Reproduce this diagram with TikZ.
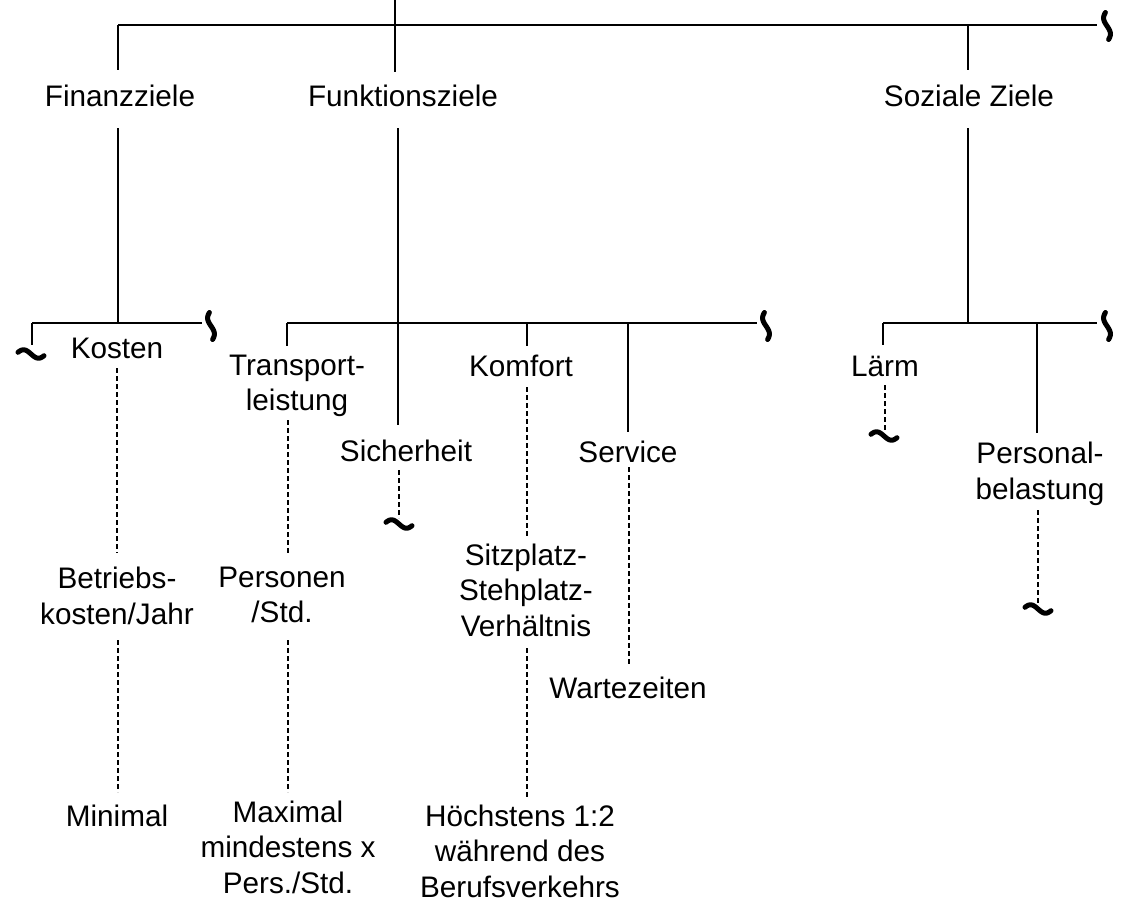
\documentclass[tikz,border=0pt]{standalone}
\usepackage{fontspec}
\setmainfont{Liberation Sans}
\begin{document}
\begin{tikzpicture}[x=1pt,y=-1pt,
  ln/.style={line width=1.2pt},
  dl/.style={line width=1.2pt, dash pattern=on 5pt off 3pt},
  lbl/.style={font=\fontsize{29.7}{35.5}\selectfont, align=center, inner sep=0pt},
  tl/.style={line width=5pt, line cap=round, line join=round},
  htil/.pic={\draw[tl] plot[domain=-13:13,samples=31,smooth] (\x,{4.2*sin(180*\x/15)});},
  vtil/.pic={\draw[tl] plot[domain=-13.5:13.5,samples=31,smooth] ({3.4*sin(180*\x/16)},\x);}]
\useasboundingbox (0,0) rectangle (1124,907);

% text nodes
\node[lbl] (fin) at (120,96) {Finanzziele};
\node[lbl] (fun) at (403,96) {Funktionsziele};
\node[lbl] (soz) at (969,96) {Soziale Ziele};
\node[lbl] (kos) at (117,348) {Kosten};
\node[lbl] (bet) at (117,596) {Betriebs-\\kosten/Jahr};
\node[lbl] (min) at (117,816) {Minimal};
\node[lbl] (tra) at (297,386) {Transport-\\leistung};
\node[lbl] (per) at (282,595) {Personen\\/Std.};
\node[lbl] (max) at (288,847) {Maximal\\mindestens x\\Pers./Std.};
\node[lbl] (sic) at (406,451) {Sicherheit};
\node[lbl] (kom) at (521,366) {Komfort};
\node[lbl] (sit) at (526,590) {Sitzplatz-\\Stehplatz-\\Verhältnis};
\node[lbl] (hoe) at (520,851) {Höchstens 1:2\\während des\\Berufsverkehrs};
\node[lbl] (ser) at (628,452) {Service};
\node[lbl] (war) at (628,688) {Wartezeiten};
\node[lbl] (lae) at (885,366) {Lärm};
\node[lbl] (pbl) at (1040,474) {Personal-\\belastung};

% coordinates
\coordinate (top) at (395,0);
\coordinate (b0l) at (118,25);
\coordinate (b0m) at (395,25);
\coordinate (b0s) at (968,25);
\coordinate (b0r) at (1097,25);
\coordinate (b1l) at (32,323);
\coordinate (b1m) at (118,323);
\coordinate (b1r) at (202,323);
\coordinate (b2l) at (287,323);
\coordinate (b2m) at (398,323);
\coordinate (b2k) at (527,323);
\coordinate (b2s) at (628,323);
\coordinate (b2r) at (757,323);
\coordinate (b3l) at (883,323);
\coordinate (b3m) at (968,323);
\coordinate (b3p) at (1037,323);
\coordinate (b3r) at (1097,323);

% level 0
\draw[ln] (top) -- (395,72);
\draw[ln] (b0l) -- (b0r);
\draw[ln] (b0l) -- (118,70);
\draw[ln] (b0s) -- (968,70);
\pic at (1107,26) {vtil};

% Finanzziele
\draw[ln] (118,128) -- (b1m);
\draw[ln] (b1l) -- (b1r);
\draw[ln] (b1l) -- (32,345);
\pic at (31,354) {htil};
\pic at (211,326) {vtil};
\draw[dl] (117,368) -- (117,553);
\draw[dl] (118,640) -- (118,792);

% Funktionsziele
\draw[ln] (398,128) -- (398,425);
\draw[ln] (b2l) -- (b2r);
\pic at (766,326) {vtil};
\draw[ln] (b2l) -- (287,346);
\draw[dl] (288,420) -- (288,555);
\draw[dl] (288,640) -- (288,792);
\draw[dl] (399,470) -- (399,518);
\pic at (399,524) {htil};
\draw[ln] (b2k) -- (527,346);
\draw[dl] (527,387) -- (527,538);
\draw[dl] (527,648) -- (527,798);
\draw[ln] (b2s) -- (628,432);
\draw[dl] (629,467) -- (629,665);

% Soziale Ziele
\draw[ln] (968,128) -- (b3m);
\draw[ln] (b3l) -- (b3r);
\pic at (1107,326) {vtil};
\draw[ln] (b3l) -- (883,345);
\draw[dl] (885,385) -- (885,430);
\pic at (884,436) {htil};
\draw[ln] (b3p) -- (1037,433);
\draw[dl] (1038,510) -- (1038,603);
\pic at (1038,609) {htil};
\end{tikzpicture}
\end{document}
